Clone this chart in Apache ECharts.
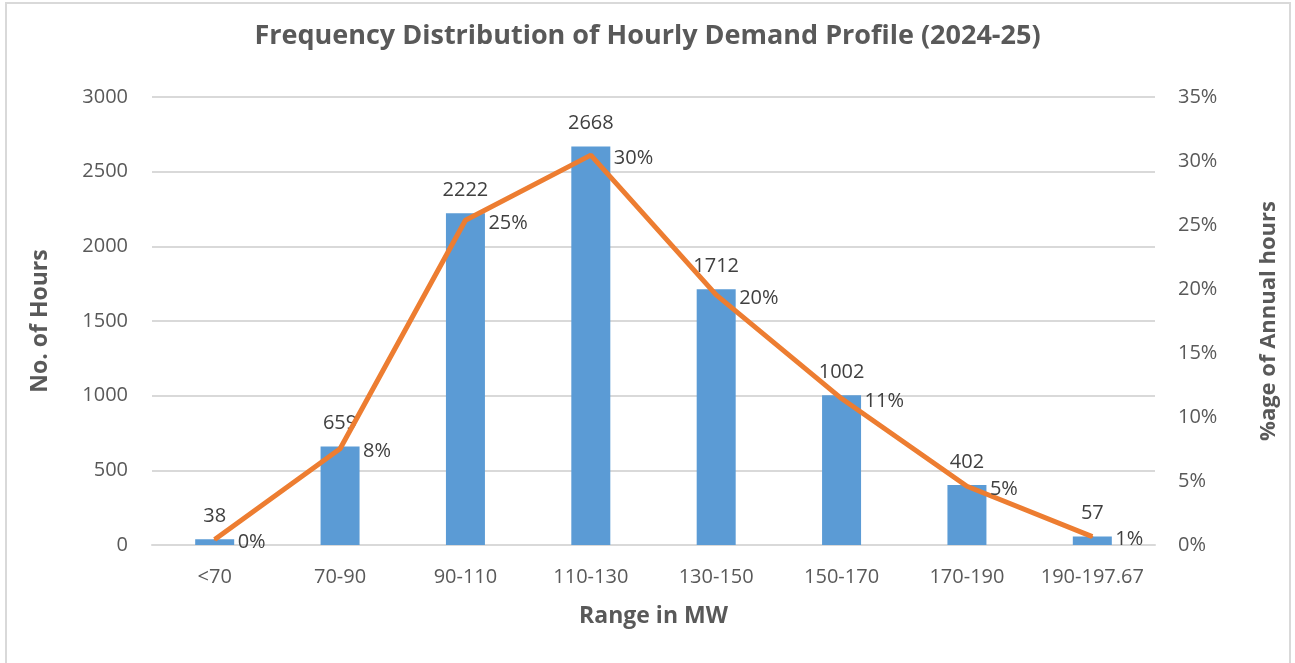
<!DOCTYPE html>
<html>
<head>
    <meta charset="utf-8">
    <title>Frequency Distribution of Hourly Demand Profile</title>
    <script src="https://cdn.jsdelivr.net/npm/echarts@6/dist/echarts.min.js"></script>
    <style>
        html, body { margin: 0; padding: 0; background: #fff; }
    </style>
</head>
<body>
    <div id="main" style="width: 1295px;height:663px;"></div>
    <script type="text/javascript">
        // data
        var ranges = ['<70', '70-90', '90-110', '110-130', '130-150', '150-170', '170-190', '190-197.67'];
        var hours = [38, 659, 2222, 2668, 1712, 1002, 402, 57];
        var pctHours = [0.43, 7.52, 25.37, 30.46, 19.54, 11.44, 4.59, 0.65];

        var FONT = '"Open Sans", "Noto Sans", sans-serif';
        var myChart = echarts.init(document.getElementById('main'));

        var option = {
            animation: false,
            textStyle: { fontFamily: FONT },
            title: {
                text: 'Frequency Distribution of Hourly Demand Profile (2024-25)',
                left: 'center',
                top: 18,
                textStyle: { fontSize: 27, fontWeight: 'bold', color: '#595959', fontFamily: FONT }
            },
            graphic: [{
                type: 'rect',
                shape: { x: 6, y: 3, width: 1284, height: 665 },
                style: { fill: 'none', stroke: '#d9d9d9', lineWidth: 2 },
                silent: true
            }],
            grid: { left: 152, right: 140, top: 97, bottom: 118 },
            xAxis: {
                type: 'category',
                data: ranges,
                name: 'Range in MW',
                nameLocation: 'middle',
                nameGap: 60,
                nameTextStyle: { fontSize: 23, fontWeight: 'bold', color: '#595959' },
                axisLine: { lineStyle: { color: '#d9d9d9', width: 2 } },
                axisTick: { show: false },
                axisLabel: { interval: 0, fontSize: 20, color: '#595959', margin: 22 }
            },
            yAxis: [{
                type: 'value',
                min: 0, max: 3000, interval: 500,
                name: 'No. of Hours',
                nameLocation: 'middle',
                nameGap: 100,
                nameTextStyle: { fontSize: 23, fontWeight: 'bold', color: '#595959' },
                axisLine: { show: false },
                axisTick: { show: false },
                axisLabel: { fontSize: 20, color: '#595959', margin: 24, formatter: function (v) { return String(v); } },
                splitLine: { lineStyle: { color: '#d9d9d9', width: 2 } }
            }, {
                type: 'value',
                min: 0, max: 35, interval: 5,
                name: '%age of Annual hours',
                nameLocation: 'middle',
                nameGap: 103,
                nameRotate: 90,
                nameTextStyle: { fontSize: 22, fontWeight: 'bold', color: '#595959' },
                axisLine: { show: false },
                axisTick: { show: false },
                axisLabel: { fontSize: 20, color: '#595959', margin: 23, formatter: '{value}%' },
                splitLine: { show: false }
            }],
            series: [{
                name: 'No. of Hours',
                type: 'bar',
                data: hours,
                barWidth: 39,
                itemStyle: { color: '#5B9BD5' },
                label: { show: true, position: 'top', fontSize: 20, color: '#404040', distance: 13 }
            }, {
                name: '%age of Annual hours',
                type: 'line',
                yAxisIndex: 1,
                data: pctHours,
                showSymbol: true,
                symbol: 'circle',
                symbolSize: 2,
                lineStyle: { color: '#ED7D31', width: 5 },
                itemStyle: { color: '#ED7D31' },
                label: {
                    show: true, position: 'right', fontSize: 20, color: '#404040', distance: 22,
                    offset: [0, 3],
                    formatter: function (p) { return Math.round(p.value) + '%'; }
                }
            }]
        };

        myChart.setOption(option);
    </script>
</body>
</html>
